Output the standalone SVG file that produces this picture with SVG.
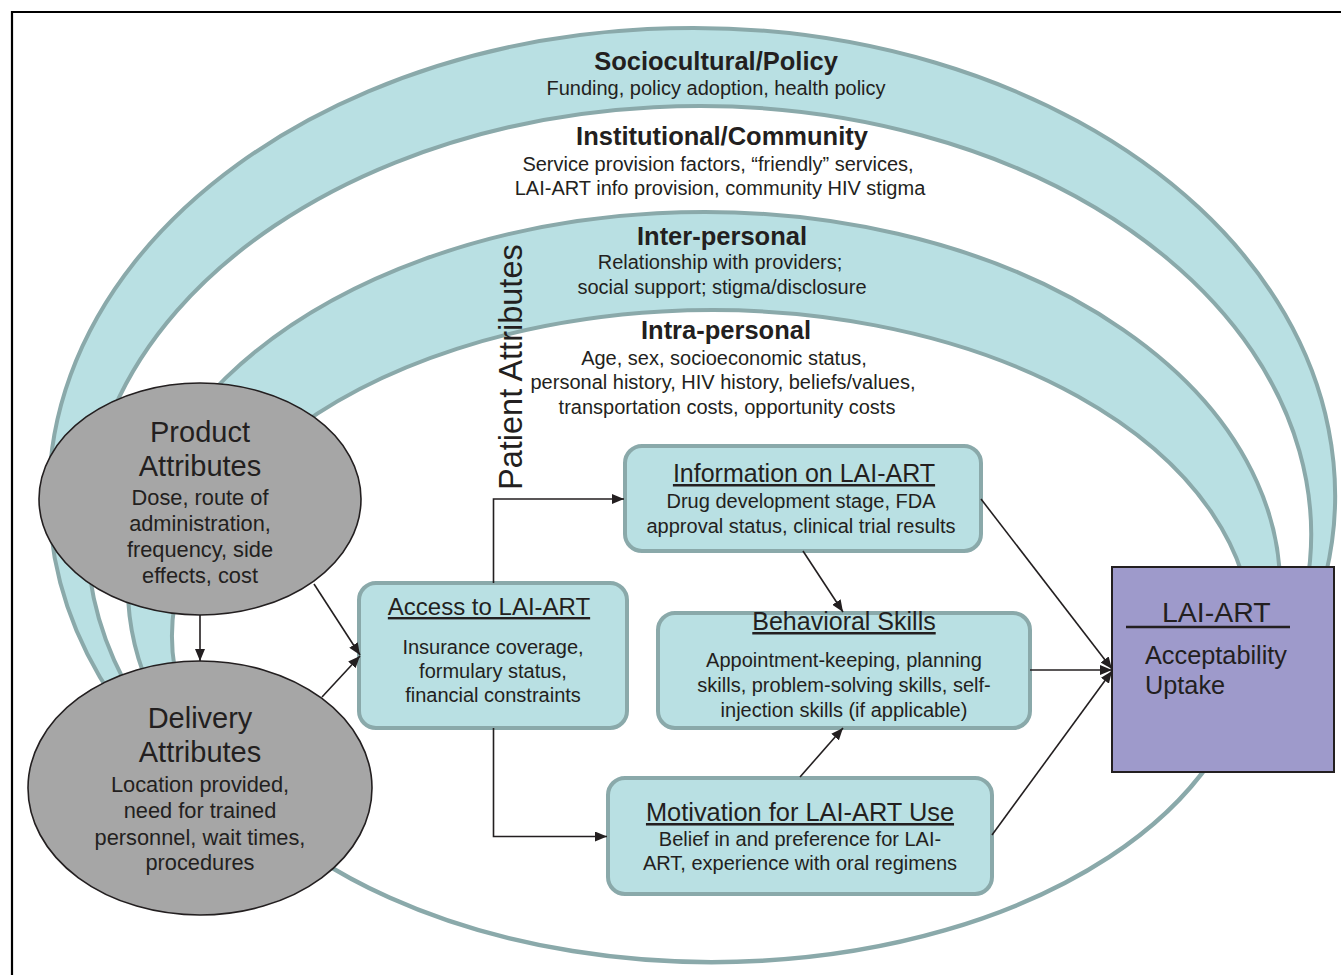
<svg xmlns="http://www.w3.org/2000/svg" width="1341" height="975" viewBox="0 0 1341 975">
<defs>
<style>
text{font-family:"Liberation Sans",Arial,sans-serif;fill:#231f20}
.band{fill:#b9e0e3;stroke:#8aa9aa;stroke-width:4}
.rim{fill:none;stroke:#8aa9aa;stroke-width:4.5}
.lt{font-size:25.5px;font-weight:bold;text-anchor:middle}
.lb{font-size:20px;text-anchor:middle}
.oval{fill:#a6a6a6;stroke:#231f20;stroke-width:1.6}
.ot{font-size:29px;text-anchor:middle}
.ob{font-size:21.8px;text-anchor:middle}
.box{fill:#b9e0e3;stroke:#8aa9aa;stroke-width:4}
.bt{font-size:25px;text-anchor:middle;text-decoration:underline}
.bb{font-size:20px;text-anchor:middle}
.conn{fill:none;stroke:#231f20;stroke-width:1.6;marker-end:url(#ah)}
</style>
<marker id="ah" markerUnits="userSpaceOnUse" viewBox="0 0 12 10" refX="12" refY="5" markerWidth="12" markerHeight="10" orient="auto">
<path d="M0,0 L12,5 L0,10 z" fill="#231f20"/>
</marker>
</defs>
<rect width="1341" height="975" fill="#ffffff"/>
<path d="M12,975 L12,12 L1341,12" fill="none" stroke="#000000" stroke-width="2.2"/>

<g id="sociocultural">
<path class="band" d="M114.3,700 A643,467 0 1 1 1303.2,640 L1292,640 A612,428 0 1 0 134.9,700 Z"/>
<text class="lt" x="716" y="70">Sociocultural/Policy</text>
<text class="lb" x="716" y="95">Funding, policy adoption, health policy</text>
</g>

<g id="interpersonal">
<path class="band" d="M154.8,700 A576,375 0 1 1 1274.2,640 L1252,640 A540,326 0 1 0 182.5,700 Z"/>
<text class="lt" x="722" y="245">Inter-personal</text>
<text class="lb" x="720" y="269">Relationship with providers;</text>
<text class="lb" x="722" y="294">social support; stigma/disclosure</text>
</g>

<path id="ring-bottom" class="rim" d="M1252,640 A540,326 0 0 1 182.5,700"/>

<g id="institutional">
<text class="lt" x="722" y="145">Institutional/Community</text>
<text class="lb" x="718" y="171">Service provision factors, “friendly” services,</text>
<text class="lb" x="720" y="195">LAI-ART info provision, community HIV stigma</text>
</g>

<g id="intrapersonal">
<text class="lt" x="726" y="339">Intra-personal</text>
<text class="lb" x="724" y="365">Age, sex, socioeconomic status,</text>
<text class="lb" x="723" y="389">personal history, HIV history, beliefs/values,</text>
<text class="lb" x="727" y="414">transportation costs, opportunity costs</text>
</g>

<g id="patient-attributes">
<text transform="translate(522,490) rotate(-90)" font-size="32.5">Patient Attributes</text>
</g>

<g id="product">
<ellipse class="oval" cx="200" cy="499" rx="161" ry="116"/>
<text class="ot" x="200" y="442">Product</text>
<text class="ot" x="200" y="476">Attributes</text>
<text class="ob" x="200" y="505">Dose, route of</text>
<text class="ob" x="200" y="531">administration,</text>
<text class="ob" x="200" y="557">frequency, side</text>
<text class="ob" x="200" y="583">effects, cost</text>
</g>

<g id="delivery">
<ellipse class="oval" cx="200" cy="788" rx="172" ry="127"/>
<text class="ot" x="200" y="728">Delivery</text>
<text class="ot" x="200" y="762">Attributes</text>
<text class="ob" x="200" y="792">Location provided,</text>
<text class="ob" x="200" y="818">need for trained</text>
<text class="ob" x="200" y="845">personnel, wait times,</text>
<text class="ob" x="200" y="870">procedures</text>
</g>

<g id="access">
<rect class="box" x="359" y="583" width="268" height="145" rx="17"/>
<text class="bt" x="489" y="615" style="font-size:24px">Access to LAI-ART</text>
<text class="bb" x="493" y="654">Insurance coverage,</text>
<text class="bb" x="493" y="678">formulary status,</text>
<text class="bb" x="493" y="702">financial constraints</text>
</g>

<g id="information">
<rect class="box" x="625" y="446" width="356" height="105" rx="17"/>
<text class="bt" x="804" y="482">Information on LAI-ART</text>
<text class="bb" x="801" y="508">Drug development stage, FDA</text>
<text class="bb" x="801" y="533">approval status, clinical trial results</text>
</g>

<g id="behavioral">
<rect class="box" x="658" y="613" width="372" height="115" rx="17"/>
<text class="bt" x="844" y="630">Behavioral Skills</text>
<text class="bb" x="844" y="667">Appointment-keeping, planning</text>
<text class="bb" x="844" y="692">skills, problem-solving skills, self-</text>
<text class="bb" x="844" y="717">injection skills (if applicable)</text>
</g>

<g id="motivation">
<rect class="box" x="608" y="778" width="384" height="116" rx="17"/>
<text class="bt" x="800" y="821" style="font-size:25.4px">Motivation for LAI-ART Use</text>
<text class="bb" x="800" y="846">Belief in and preference for LAI-</text>
<text class="bb" x="800" y="870">ART, experience with oral regimens</text>
</g>

<g id="lai-art">
<rect x="1112" y="567" width="222" height="205" fill="#9e9acb" stroke="#231f20" stroke-width="2"/>
<text x="1162" y="622" font-size="28.5">LAI-ART</text>
<line x1="1126" y1="627" x2="1290" y2="627" stroke="#231f20" stroke-width="2.4"/>
<text x="1145" y="664" font-size="25.3">Acceptability</text>
<text x="1145" y="694" font-size="25.3">Uptake</text>
</g>

<g id="connectors">
<path class="conn" d="M200,615 L200,661"/>
<path class="conn" d="M314,584 L360,655"/>
<path class="conn" d="M322,697 L360,656"/>
<path class="conn" d="M493.5,583 L493.5,499 L624,499"/>
<path class="conn" d="M493.5,728 L493.5,836.5 L607,836.5"/>
<path class="conn" d="M803,551 L843,612"/>
<path class="conn" d="M800,777 L843,728"/>
<path class="conn" d="M981,499 L1112,669"/>
<path class="conn" d="M1030,670 L1112,670"/>
<path class="conn" d="M992,835 L1112,671"/>
</g>
</svg>
